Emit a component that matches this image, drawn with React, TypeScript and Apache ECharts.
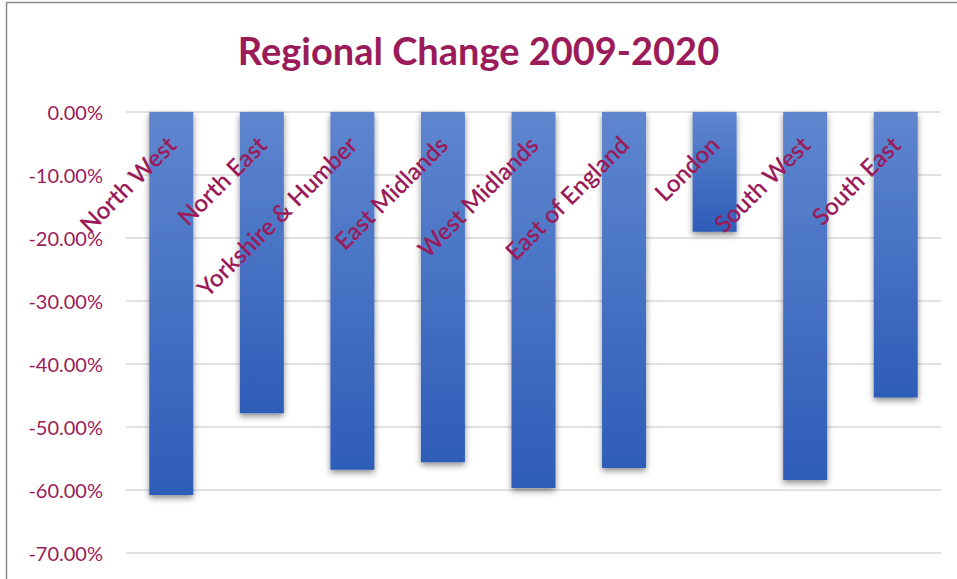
import React, { useEffect, useRef } from "react";
import * as echarts from "echarts";

const categories = [
  "North West",
  "North East",
  "Yorkshire & Humber",
  "East Midlands",
  "West Midlands",
  "East of England",
  "London",
  "South West",
  "South East",
];
const changeValues = [-0.608, -0.478, -0.568, -0.556, -0.597, -0.565, -0.19, -0.584, -0.453];
const yMin = -0.7;
const yMax = 0;
const yStep = 0.1;
const titleText = "Regional Change 2009-2020";

const MAROON = "#9B1B5A";
const FONT = "Lato, 'Open Sans', sans-serif";

export default function App() {
  const ref = useRef<HTMLDivElement>(null);
  useEffect(() => {
    if (!ref.current) return;
    const chart = echarts.init(ref.current, null, { renderer: "svg" });
    chart.setOption({
      animation: false,
      backgroundColor: "#ffffff",
      title: {
        text: titleText,
        left: "center",
        top: 26,
        textStyle: { color: MAROON, fontSize: 38, fontWeight: "bold", fontFamily: FONT },
      },
      graphic: [
        {
          type: "rect",
          shape: { x: 6.5, y: 2.5, width: 1200, height: 1200 },
          style: { fill: "none", stroke: "#8a8a8a", lineWidth: 1.5 },
          silent: true,
        },
      ],
      grid: { left: 126, right: 16, top: 112, bottom: 26, containLabel: false },
      xAxis: {
        type: "category",
        data: categories,
        position: "top",
        axisLine: { show: false },
        axisTick: { show: false },
        axisLabel: {
          inside: true,
          rotate: 45,
          margin: 28,
          interval: 0,
          color: MAROON,
          fontSize: 24,
          fontFamily: FONT,
          fontWeight: 600,
        },
        z: 10,
      },
      yAxis: {
        type: "value",
        min: yMin,
        max: yMax,
        interval: yStep,
        axisLine: { show: false },
        axisTick: { show: false },
        splitLine: { lineStyle: { color: "#d9d9d9", width: 1.5 } },
        axisLabel: {
          color: MAROON,
          fontSize: 20,
          fontFamily: FONT,
          margin: 23,
          formatter: (v: number) => (v * 100).toFixed(2) + "%",
        },
      },
      series: [
        {
          type: "bar",
          data: changeValues,
          barWidth: 44,
          itemStyle: {
            color: new echarts.graphic.LinearGradient(0, 0, 0, 1, [
              { offset: 0, color: "#5F86CF" },
              { offset: 1, color: "#2E5DB8" },
            ]),
            shadowColor: "rgba(0,0,0,0.45)",
            shadowBlur: 6,
            shadowOffsetY: 3,
          },
        },
      ],
    });
    return () => chart.dispose();
  }, []);
  return (
    <div
      ref={ref}
      style={{ position: "fixed", left: 0, top: 0, width: 957, height: 579 }}
    />
  );
}
